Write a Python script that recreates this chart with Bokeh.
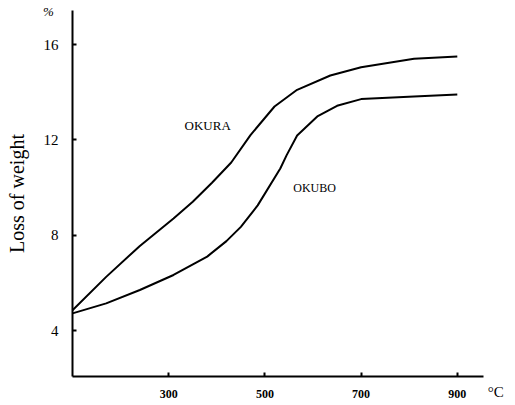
from bokeh.plotting import figure
from bokeh.models import Range1d, FixedTicker, Label
from bokeh.embed import file_html
from bokeh.resources import INLINE

# Data (temperature in °C, loss of weight in %)
okura_t = [100, 170, 240, 310, 350, 390, 430, 470, 520, 567, 636, 700, 810, 900]
okura_w = [4.85, 6.25, 7.55, 8.7, 9.4, 10.2, 11.05, 12.2, 13.4, 14.1, 14.7, 15.05, 15.4, 15.5]

okubo_t = [100, 170, 240, 310, 380, 420, 450, 485, 532, 545, 567, 610, 650, 700, 810, 900]
okubo_w = [4.72, 5.14, 5.7, 6.33, 7.1, 7.75, 8.35, 9.25, 10.8, 11.35, 12.18, 13.0, 13.43, 13.71, 13.82, 13.9]

x_ticks = [300, 500, 700, 900]
y_ticks = [4, 8, 12, 16]

FONT = "Liberation Serif"

X0, X1 = 100, 955      # extent of the drawn x axis
Y0, Y1 = 2.07, 17.43   # extent of the drawn y axis

p = figure(width=515, height=405, output_backend="svg", toolbar_location=None,
           x_range=Range1d(-49.7, 1021.0), y_range=Range1d(0.853, 17.848),
           min_border_left=0, min_border_right=0, min_border_top=0, min_border_bottom=0)

p.outline_line_color = None
p.xgrid.visible = False
p.ygrid.visible = False
p.background_fill_color = "white"

p.line(okura_t, okura_w, line_color="black", line_width=2, line_join="round")
p.line(okubo_t, okubo_w, line_color="black", line_width=2, line_join="round")

# axes placed at fixed data locations inside the frame
p.xaxis.ticker = FixedTicker(ticks=x_ticks)
p.yaxis.ticker = FixedTicker(ticks=y_ticks)
p.xaxis.fixed_location = Y0
p.yaxis.fixed_location = X0
p.xaxis.bounds = (X0, X1)
p.yaxis.bounds = (Y0, Y1)
for ax in (p.xaxis[0], p.yaxis[0]):
    ax.axis_line_width = 2
    ax.axis_line_color = "black"
    ax.major_tick_in = 4
    ax.major_tick_out = 0
    ax.major_tick_line_width = 2
    ax.minor_tick_line_color = None
    ax.major_label_text_font = FONT
    ax.major_label_text_color = "black"

p.xaxis.major_label_text_font_size = "12px"
p.xaxis.major_label_text_font_style = "bold"
p.xaxis.major_label_standoff = 14

p.yaxis.major_label_text_font_size = "15px"
p.yaxis.major_label_standoff = 14
p.yaxis.axis_label = "Loss of weight"
p.yaxis.axis_label_text_font = FONT
p.yaxis.axis_label_text_font_size = "20px"
p.yaxis.axis_label_text_font_style = "normal"
p.yaxis.axis_label_text_color = "black"
p.yaxis.axis_label_standoff = 13

# curve labels
p.add_layout(Label(x=333, y=12.6, text="OKURA", text_font=FONT, text_font_size="13px",
                   text_baseline="middle", text_align="left", text_color="black"))
p.add_layout(Label(x=559, y=10.0, text="OKUBO", text_font=FONT, text_font_size="12px",
                   text_baseline="middle", text_align="left", text_color="black"))

# unit labels
p.add_layout(Label(x=50, y=17.38, text="%", text_font=FONT, text_font_size="13px",
                   text_font_style="italic", text_baseline="middle", text_align="center",
                   text_color="black"))
p.add_layout(Label(x=980, y=1.44, text="°C", text_font=FONT, text_font_size="15px",
                   text_baseline="middle", text_align="center", text_color="black"))

open("out.html", "w").write(file_html(p, INLINE))
